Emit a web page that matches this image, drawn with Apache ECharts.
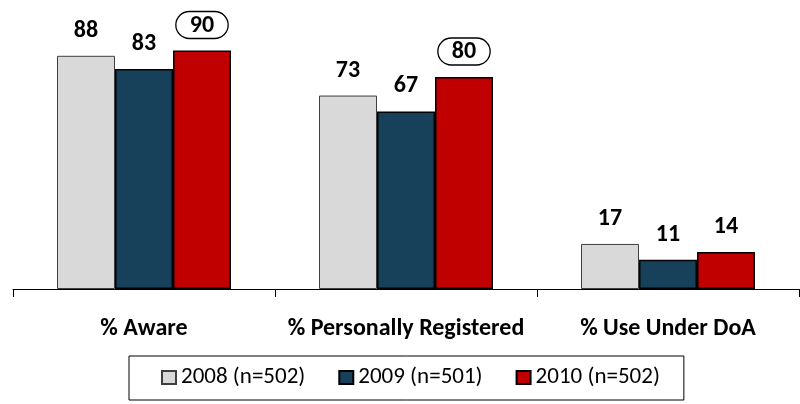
<!DOCTYPE html>
<html>
<head>
<meta charset="utf-8">
<script src="https://cdn.jsdelivr.net/npm/echarts@6/dist/echarts.min.js"></script>
<style>
  html, body { margin: 0; padding: 0; background: #fff; }
  #chart { width: 800px; height: 404px; }
</style>
</head>
<body>
<div id="chart"></div>
<script>
var categories = ['% Aware', '% Personally Registered', '% Use Under DoA'];
var seriesNames = ['2008 (n=502)', '2009 (n=501)', '2010 (n=502)'];
var values2008 = [88, 73, 17];
var values2009 = [83, 67, 11];
var values2010 = [90, 80, 14];
// 2010 labels drawn with an oval round them
var circled = [true, true, false];

var font = 'Carlito, Lato, sans-serif';

var myChart = echarts.init(document.getElementById('chart'));

function barLabel(){
  return {
    show: true,
    position: 'top',
    distance: 13,
    fontFamily: font,
    fontWeight: 'bold',
    fontSize: 24,
    color: '#000'
  }
}

var option = {
  animation: false,
  grid: { left: 13, right: 1, top: 24, bottom: 115 },
  legend: {
    data: seriesNames,
    left: 129,
    top: 356,
    padding: [10, 24, 11, 32],
    borderColor: '#000',
    borderWidth: 1,
    itemWidth: 14,
    itemHeight: 13,
    itemGap: 33,
    icon: 'rect',
    textStyle: { fontFamily: font, fontSize: 23, color: '#000' }
  },
  xAxis: {
    type: 'category',
    data: categories,
    axisLine: { lineStyle: { color: '#000', width: 1 } },
    axisTick: { show: true, interval: 0, length: 8, lineStyle: { color: '#000' } },
    axisLabel: {
      interval: 0,
      margin: 28,
      fontFamily: font,
      fontWeight: 'bold',
      fontSize: 24,
      color: '#000'
    }
  },
  yAxis: {
    type: 'value',
    min: 0,
    max: 100,
    show: false,
    splitLine: { show: false }
  },
  series: [
    {
      name: seriesNames[0],
      type: 'bar',
      barWidth: 58,
      barGap: 0,
      data: values2008,
      itemStyle: { color: '#d9d9d9', borderColor: '#3f3f3f', borderWidth: 1 },
      label: barLabel()
    },
    {
      name: seriesNames[1],
      type: 'bar',
      barWidth: 58,
      barGap: 0,
      data: values2009,
      itemStyle: { color: '#17405a', borderColor: '#000', borderWidth: 1.5 },
      label: barLabel()
    },
    {
      name: seriesNames[2],
      type: 'bar',
      barWidth: 58,
      barGap: 0,
      data: values2010.map(function(v, i){
        if(!circled[i]) return v
        return {
          value: v,
          label: {
            distance: 12,
            borderColor: '#000',
            borderWidth: 1.3,
            borderRadius: 14,
            padding: [2, 14, 1, 14]
          }
        }
      }),
      itemStyle: { color: '#c00000', borderColor: '#000', borderWidth: 1.5 },
      label: barLabel()
    }
  ]
};
myChart.setOption(option);
</script>
</body>
</html>
